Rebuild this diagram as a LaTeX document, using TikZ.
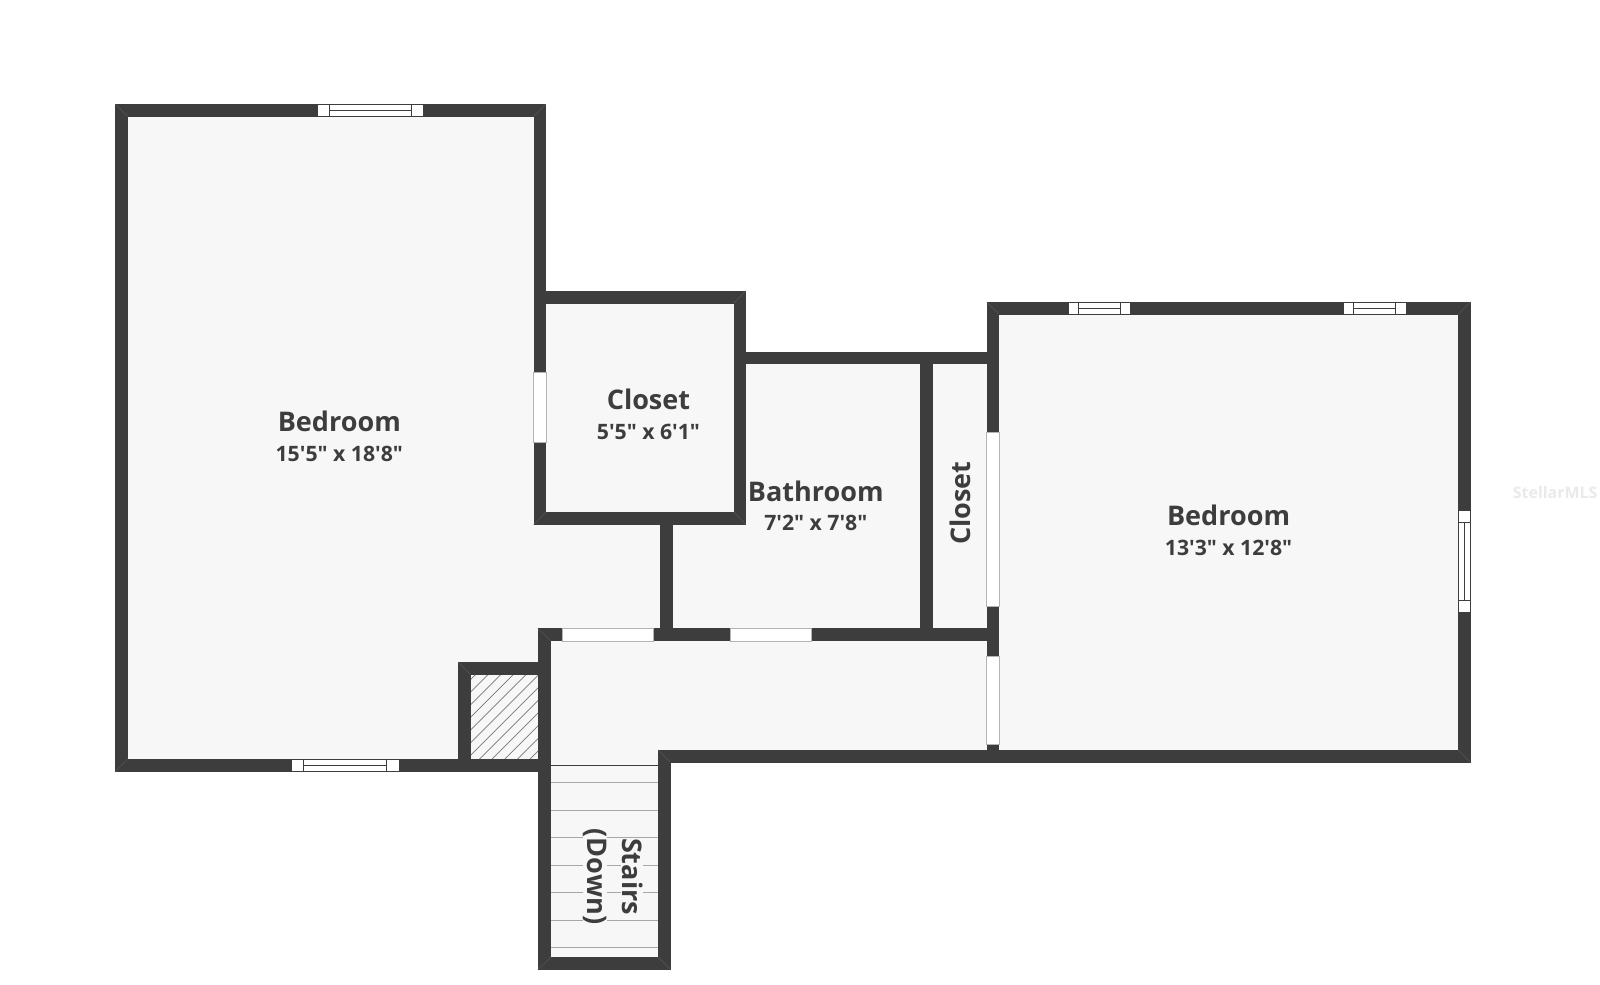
\documentclass[tikz,border=0pt]{standalone}
\usepackage{fontspec}
\newfontfamily\plansans{Open Sans}
\definecolor{wallc}{HTML}{3D3D3D}
\definecolor{mitrec}{HTML}{565656}
\definecolor{floorc}{HTML}{F7F7F7}
\definecolor{edgec}{HTML}{B4B4B4}
\definecolor{stepc}{HTML}{A8A8A8}
\definecolor{markc}{HTML}{EAEAEA}
\definecolor{hatchc}{HTML}{777777}
\newcommand{\wallbar}[4]{\fill[wallc] (#1,{#2-.2}) rectangle ({#3+.3},{#4+.5});}
\newcommand{\opening}[4]{\filldraw[white,draw=edgec,line width=.6pt] (#1,#2) rectangle (#3,#4);}
\newcommand{\mitre}[4]{\draw[mitrec,line width=.5pt] (#1,#2) -- (#3,#4);}
\newcommand{\hwin}[6]{\filldraw[white,draw=wallc,line width=.5pt] (#1,#5) rectangle (#2,#6);
  \draw[wallc,line width=.8pt] (#3,#5) -- (#3,#6) (#4,#5) -- (#4,#6) (#3,{(#5+#6)/2}) -- (#4,{(#5+#6)/2});}
\tikzset{
  nametext/.style={text=wallc,font=\plansans\fontsize{26.5}{26.5}\selectfont\bfseries,inner sep=0pt},
  sizetext/.style={text=wallc,font=\plansans\fontsize{20.8}{22}\selectfont\bfseries,inner sep=0pt},
  stairtext/.style={text=wallc,font=\plansans\fontsize{26.5}{26.5}\selectfont\bfseries,inner sep=.5pt,fill=floorc},
  steprule/.style={stepc,line width=1pt},
  hatchline/.style={hatchc,line width=.7pt}
}
\begin{document}
\begin{tikzpicture}[x=1pt,y=-1pt]
\useasboundingbox (0,0) rectangle (1568,965.3);
\fill[white] (0,0) rectangle (1568,965.3);
% floors
\fill[floorc] (119,108) -- (529,108) -- (529,291) -- (725,291) -- (725,350) -- (973,350) -- (973,302) -- (1435,302) -- (1435,741) -- (651,741) -- (651,944) -- (534,944) -- (534,750) -- (119,750) -- cycle;
% hatched shaft
\begin{scope}
\clip (461,661) rectangle (527,744);
\foreach \d in {0,12.4,...,155} {
  \draw[hatchline] (455,{672+\d}) -- (545,{672+\d-90});
}
\end{scope}
% stair treads
\foreach \y in {767,794,821,848,875,902,929} {
  \draw[steprule] (540,\y) -- (645,\y);
}
\draw[wallc,line width=1.2pt] (540,750) -- (645,750);
% walls: bedroom left
\wallbar{113}{102}{535}{114}
\wallbar{113}{102}{125}{756}
\wallbar{113}{744}{540}{756}
\wallbar{523}{102}{535}{514}
% closet
\wallbar{523}{285}{731}{297}
\wallbar{719}{285}{731}{514}
\wallbar{523}{502}{731}{514}
% bathroom
\wallbar{719}{345}{979}{356}
\wallbar{647}{510}{659}{622}
\wallbar{902}{350}{914}{622}
\wallbar{527}{616}{979}{628}
% right bedroom
\wallbar{967}{296}{1441}{308}
\wallbar{1429}{296}{1441}{747}
\wallbar{645}{735}{1441}{747}
\wallbar{967}{296}{979}{747}
% hall and stairs
\wallbar{527}{616}{540}{950}
\wallbar{645}{735}{657}{950}
\wallbar{527}{938}{657}{950}
% shaft
\wallbar{449}{649}{540}{661}
\wallbar{449}{649}{461}{756}
% wall-joint mitres
\mitre{113}{102}{125}{114}
\mitre{535}{102}{523}{114}
\mitre{113}{756}{125}{744}
\mitre{731}{285}{719}{297}
\mitre{523}{514}{535}{502}
\mitre{731}{514}{719}{502}
\mitre{967}{296}{979}{308}
\mitre{1441}{296}{1429}{308}
\mitre{1441}{747}{1429}{735}
\mitre{527}{616}{540}{628}
\mitre{449}{649}{461}{661}
\mitre{527}{950}{540}{938}
\mitre{657}{950}{645}{938}
\mitre{645}{735}{657}{747}
% openings
\opening{523}{365}{535}{433}
\opening{967}{424}{979}{594}
\opening{967}{643}{979}{729}
\opening{551}{616}{640}{628}
\opening{716}{616}{795}{628}
% windows
\hwin{311}{415}{323}{403}{102}{114}
\hwin{285}{391}{297}{379}{744}{756}
\hwin{1047}{1108}{1057}{1098}{296}{308}
\hwin{1316}{1378}{1326}{1367}{296}{308}
\filldraw[white,draw=wallc,line width=.5pt] (1429,500) rectangle (1441,600);
\draw[wallc,line width=.8pt] (1429,512) -- (1441,512) (1429,588) -- (1441,588) (1435,512) -- (1435,588);
% labels
\node[nametext] (bedA) at (332.5,413) {Bedroom};
\node[sizetext] (bedAs) at (332.5,444.5) {15'5" x 18'8"};
\node[nametext] (closA) at (635.5,391.5) {Closet};
\node[sizetext] (closAs) at (635.5,423) {5'5" x 6'1"};
\node[nametext] (bath) at (799.5,481.5) {Bathroom};
\node[sizetext] (baths) at (799.5,512.5) {7'2" x 7'8"};
\node[nametext] (bedB) at (1204,505.5) {Bedroom};
\node[sizetext] (bedBs) at (1204,536.5) {13'3" x 12'8"};
\node[nametext,rotate=90] (closB) at (941,493) {Closet};
\node[stairtext,rotate=-90] (st) at (619.5,859) {Stairs};
\node[stairtext,rotate=-90] (dn) at (583,859) {(Down)};
\node[text=markc,font=\plansans\fontsize{15.6}{17}\selectfont\bfseries,inner sep=0pt] (mark) at (1524,483) {StellarMLS};
\end{tikzpicture}
\end{document}
